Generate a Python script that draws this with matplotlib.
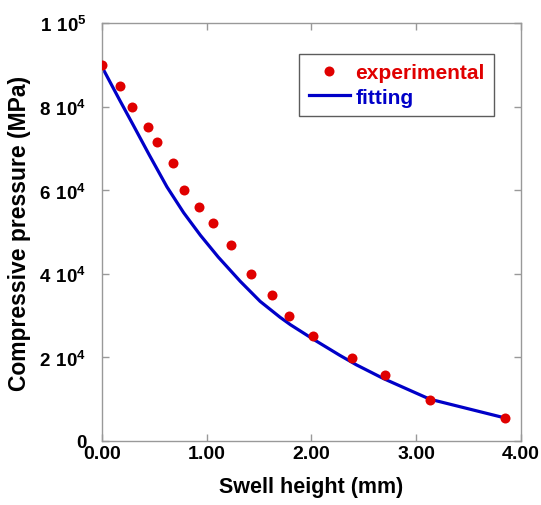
import matplotlib
matplotlib.use("Agg")
import matplotlib.pyplot as plt
from matplotlib.ticker import FixedLocator, FixedFormatter

plt.rcParams['font.family'] = ['Liberation Sans', 'DejaVu Sans']
plt.rcParams['font.weight'] = 'bold'
plt.rcParams['mathtext.fontset'] = 'custom'
plt.rcParams['mathtext.rm'] = 'Liberation Sans:bold'
plt.rcParams['mathtext.bf'] = 'Liberation Sans:bold'

# experimental points
exp_x = [0.0, 0.172, 0.284, 0.439, 0.522, 0.675, 0.780, 0.922, 1.062, 1.234,
         1.422, 1.623, 1.790, 2.017, 2.387, 2.705, 3.131, 3.850]
exp_y = [90000, 85000, 80000, 75000, 71450, 66400, 60000, 55900, 52100, 47000,
         40000, 35000, 29900, 25000, 19900, 15800, 9900, 5600]

# fitting curve
fit_x = [0.0, 0.17, 0.30, 0.45, 0.62, 0.78, 0.94, 1.11, 1.32, 1.51, 1.70,
         1.80, 2.02, 2.27, 2.43, 2.69, 3.13, 3.85]
fit_y = [89500, 81500, 75500, 68500, 60800, 54600, 49200, 44000, 38200, 33400,
         29600, 27800, 24300, 20500, 18200, 14900, 10000, 5500]

x_ticks = [0, 1, 2, 3, 4]
x_labels = ['0.00', '1.00', '2.00', '3.00', '4.00']
y_ticks = [0, 20000, 40000, 60000, 80000, 100000]
y_labels = ['0', r'$2\ 10^{4}$', r'$4\ 10^{4}$', r'$6\ 10^{4}$', r'$8\ 10^{4}$', r'$1\ 10^{5}$']

fig = plt.figure(figsize=(5.41, 5.06), dpi=100)
ax = fig.add_axes([0.1885, 0.1265, 0.7745, 0.8261])

ax.plot(fit_x, fit_y, color='#0000c8', lw=2.3, label='fitting', zorder=2)
ax.plot(exp_x, exp_y, 'o', color='#e00000', ms=7.2, mec='none',
        label='experimental', zorder=3)

ax.set_xlim(0, 4)
ax.set_ylim(0, 100000)
ax.xaxis.set_major_locator(FixedLocator(x_ticks))
ax.xaxis.set_major_formatter(FixedFormatter(x_labels))
ax.yaxis.set_major_locator(FixedLocator(y_ticks))
ax.yaxis.set_major_formatter(FixedFormatter(y_labels))

for s in ax.spines.values():
    s.set_color('#999999')
    s.set_linewidth(1.0)
ax.tick_params(direction='in', length=5, width=1, color='#999999',
               top=True, right=True)
ax.tick_params(axis='x', labelsize=14, pad=3)
ax.tick_params(axis='y', labelsize=13.5, pad=11)

ax.set_xlabel('Swell height (mm)', fontsize=15.5, fontweight='bold', labelpad=10)
ax.set_ylabel('Compressive pressure (MPa)', fontsize=16.5, fontweight='bold', labelpad=6)

handles, labels = ax.get_legend_handles_labels()
leg = ax.legend(handles[::-1], labels[::-1], loc='upper right',
                bbox_to_anchor=(0.936, 0.926), borderaxespad=0, numpoints=1,
                fontsize=15, frameon=True, fancybox=False, edgecolor='#333333',
                handlelength=2.0, handletextpad=0.25, borderpad=0.45,
                labelspacing=0.25)
leg.get_frame().set_linewidth(1.0)
for t, c in zip(leg.get_texts(), ['#e00000', '#0000c8']):
    t.set_color(c)
    t.set_fontweight('bold')

fig.savefig('out.png', dpi=100)
